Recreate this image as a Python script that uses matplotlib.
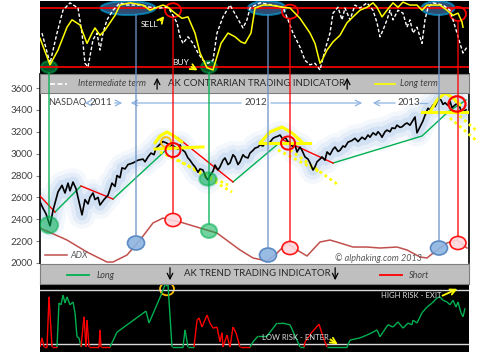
import numpy as np
import matplotlib.pyplot as plt
from matplotlib.patches import Ellipse, ConnectionPatch
from matplotlib.collections import LineCollection

plt.rcParams['font.family'] = ['Lato', 'DejaVu Sans']

# x axis: months since mid Aug 2011
nasdaq_x = [0.0, 0.15, 0.3, 0.5, 0.65, 0.9, 1.1, 1.25, 1.4, 1.5, 1.65, 1.8, 1.9, 2.0, 2.1, 2.25, 2.4, 2.5,
            2.65, 2.75, 2.9, 3.0, 3.2, 3.4, 3.6, 3.75, 3.85, 4.0, 4.1, 4.25, 4.4, 4.65, 4.9, 5.15, 5.25, 5.4,
            5.55, 5.7, 5.8, 6.05, 6.15, 6.35, 6.5, 6.6, 6.75, 6.9, 7.0, 7.15, 7.25, 7.4, 7.5, 7.65, 7.75, 7.9,
            8.0, 8.15, 8.3, 8.4, 8.5, 8.65, 8.75, 8.9, 9.0, 9.15, 9.25, 9.4, 9.5, 9.65, 9.75, 9.9, 10.0, 10.15,
            10.25, 10.4, 10.5, 10.65, 10.75, 10.9, 11.0, 11.15, 11.25, 11.4, 11.5, 11.65, 11.75, 11.9, 12.0,
            12.15, 12.25, 12.4, 12.5, 12.65, 12.75, 12.85, 13.0, 13.1, 13.25, 13.4, 13.5, 13.65, 13.75, 13.85,
            14.0, 14.1, 14.25, 14.35, 14.5, 14.65, 14.75, 14.9, 15.0, 15.15, 15.25, 15.4, 15.6, 15.75, 15.9,
            16.1, 16.25, 16.4, 16.5, 16.65, 16.8, 16.9, 17.0, 17.1, 17.25, 17.35, 17.5, 17.6, 17.75, 17.85,
            18.0, 18.1, 18.25, 18.35, 18.5, 18.6, 18.75, 18.85, 19.0, 19.15, 19.25, 19.4, 19.5, 19.65, 19.75,
            19.85, 19.95, 20.05, 20.15, 20.25, 20.4, 20.5, 20.6, 20.75, 20.9, 21.0, 21.1, 21.2, 21.3]
nasdaq_v = [2560, 2500, 2450, 2340, 2480, 2650, 2710, 2640, 2730, 2660, 2740, 2680, 2600, 2520, 2440, 2580,
            2540, 2600, 2640, 2580, 2600, 2530, 2580, 2620, 2730, 2700, 2800, 2780, 2870, 2860, 2900, 2915,
            2940, 2950, 2925, 2970, 3005, 2990, 3050, 3095, 3110, 3095, 3070, 3080, 3060, 3040, 3080, 3030,
            3015, 2960, 2940, 2900, 2880, 2830, 2860, 2850, 2780, 2760, 2800, 2840, 2895, 2850, 2880, 2940,
            2960, 2900, 2915, 2990, 2970, 2900, 2925, 2990, 2970, 2960, 3005, 3030, 3050, 3060, 3080, 3070,
            3095, 3090, 3105, 3140, 3150, 3160, 3170, 3130, 3150, 3110, 3095, 3060, 3080, 3015, 3060, 3030,
            2970, 2950, 2915, 2850, 2880, 2925, 2950, 2970, 2940, 3015, 2990, 3040, 3060, 3020, 3030, 3070,
            3060, 3105, 3120, 3140, 3110, 3150, 3130, 3170, 3150, 3190, 3170, 3200, 3180, 3150, 3200, 3215,
            3200, 3235, 3230, 3260, 3240, 3245, 3270, 3280, 3260, 3290, 3335, 3190, 3245, 3300, 3350, 3415,
            3400, 3445, 3430, 3470, 3500, 3490, 3450, 3465, 3440, 3480, 3420, 3445, 3465, 3420, 3370, 3390, 3400]

adx_x = [0, 1.35, 2.35, 3.35, 3.65, 4.35, 5.0, 5.65, 6.15, 6.5, 7.0, 8.0, 8.85, 10.0, 10.65, 11.35, 11.85,
         12.35, 12.85, 13.35, 14.0, 14.5, 15.0, 15.65, 16.35, 17.0, 17.85, 18.35, 19.0, 19.35, 19.85, 20.35,
         20.85, 21.35]
adx_v = [2320, 2210, 2100, 2009, 2009, 2073, 2210, 2366, 2411, 2393, 2375, 2320, 2274, 2119, 2046, 2018,
         2091, 2183, 2119, 2064, 2192, 2210, 2183, 2146, 2146, 2137, 2146, 2119, 2055, 2046, 2119, 2183,
         2210, 2137]

long_lines = [([0.75, 2.05], [2466, 2704]), ([3.65, 6.3], [2585, 3033]), ([9.65, 11.9], [2741, 3088]),
              ([14.65, 19.1, 20.4, 21.3], [2914, 3161, 3381, 3490])]
short_lines = [([0, 0.75], [2613, 2466]), ([2.05, 3.65], [2704, 2585]), ([6.9, 9.65], [3143, 2741]),
               ([12.15, 14.65], [3125, 2914])]

# head & neckline patterns
heads = [([5.75, 6.0, 6.35, 6.7, 7.1], [3097, 3161, 3198, 3161, 3106]),
         ([11.0, 11.5, 12.1, 12.6, 13.1], [3097, 3198, 3243, 3189, 3106]),
         ([19.5, 19.85, 20.25, 20.65, 21.0], [3381, 3490, 3554, 3509, 3445])]
necks = [([5.75, 8.15], [3042, 3061]), ([11.0, 13.5], [3097, 3097]), ([19.1, 21.35], [3381, 3381])]
channels = [([6.0, 9.4], [3015, 2713]), ([6.9, 9.6], [2942, 2649]),
            ([11.9, 14.0], [3033, 2832]), ([12.5, 14.85], [3033, 2722]),
            ([20.75, 21.9], [3381, 3198]), ([20.5, 21.9], [3326, 3106])]

# contrarian oscillators (top panel)
long_term_x = [0, 0.5, 0.9, 1.35, 1.6, 2.0, 2.35, 2.6, 2.75, 3.0, 3.25, 3.5, 3.75, 4.0, 4.5, 5.15, 5.5, 5.85,
               6.15, 6.4, 6.75, 7.1, 7.4, 7.75, 8.0, 8.35, 8.65, 9.05, 9.4, 9.75, 10.05, 10.25, 10.55, 10.75,
               11.15, 11.5, 12.15, 12.5, 13.0, 13.5, 13.75, 14.0, 14.1, 14.35, 14.65, 15.0, 15.35, 15.65,
               16.0, 16.35, 16.65, 16.85, 17.1, 17.35, 17.65, 17.9, 18.15, 18.5, 18.85, 19.1, 19.35, 20.0,
               20.35, 20.65, 20.9, 21.1, 21.15]
long_term_v = [49, 13, 33, 64, 74, 67, 42, 56, 63, 53, 60, 70, 80, 94, 97, 94, 87, 91, 94, 91, 83, 76, 78,
               56, 29, 9, 6, 42, 56, 51, 44, 42, 56, 90, 94, 94, 91, 90, 76, 56, 42, 15, 19, 33, 44, 53, 70,
               78, 87, 91, 97, 91, 78, 87, 97, 91, 98, 94, 94, 87, 94, 94, 87, 80, 83, 71, 64]
interm_x = [0.1, 0.5, 0.85, 1.15, 1.5, 1.9, 2.1, 2.25, 2.4, 2.65, 2.85, 3.0, 3.15, 3.35, 3.65, 4.0, 4.35, 5.0,
            5.5, 6.0, 6.35, 6.5, 6.85, 7.0, 7.15, 7.4, 7.65, 7.9, 8.15, 8.4, 8.65, 8.85, 9.15, 9.5, 9.65, 10.0,
            10.15, 10.35, 10.5, 11.0, 11.65, 12.15, 12.4, 12.65, 13.0, 13.25, 13.5, 13.75, 14.0, 14.25, 14.5,
            14.65, 14.9, 15.1, 15.25, 15.5, 15.75, 16.0, 16.35, 16.65, 16.85, 17.0, 17.15, 17.35, 17.5,
            17.65, 17.9, 18.15, 18.35, 18.5, 18.65, 18.85, 19.1, 19.25, 19.4, 19.65, 20.15, 20.5, 20.65,
            20.85, 21.0, 21.15, 21.35]
interm_v = [56, 15, 56, 87, 97, 90, 56, 15, 10, 47, 56, 33, 56, 74, 87, 97, 94, 94, 91, 90, 91, 87, 70, 51,
            42, 51, 42, 29, 19, 15, 19, 56, 78, 94, 87, 70, 63, 74, 90, 97, 94, 91, 74, 56, 37, 19, 13, 15,
            6, 33, 56, 83, 91, 74, 90, 74, 94, 90, 97, 87, 70, 51, 60, 74, 87, 74, 87, 83, 64, 74, 56, 64,
            42, 74, 91, 97, 94, 87, 74, 56, 42, 29, 37]

# trend indicator (bottom panel)
trend_x = [0, 0.1, 0.2, 0.35, 0.45, 0.6, 0.85, 0.95, 1.05, 1.15, 1.25, 1.35, 1.5, 1.65, 1.75, 1.85, 1.95,
           2.05, 2.2, 2.3, 2.35, 2.45, 2.95, 3.0, 3.05, 3.5, 3.85, 5.3, 5.45, 6.1, 6.25, 6.4, 6.6, 7.15, 7.25,
           7.4, 7.7, 7.85, 7.95, 8.1, 8.35, 8.5, 8.65, 8.85, 9.0, 9.1, 9.15, 9.35, 9.5, 9.65, 9.8, 10.0, 10.5,
           10.65, 10.9, 11.35, 11.85, 12.1, 12.5, 12.85, 13.0, 13.2, 13.25, 13.6, 13.95, 14.15, 14.35, 15.35,
           15.5, 16.0, 16.35, 16.65, 16.85, 17.0, 17.15, 17.4, 17.65, 17.9, 18.15, 18.4, 18.6, 18.65, 18.85,
           19.1, 19.35, 19.6, 19.85, 20.0, 20.15, 20.35, 20.5, 20.65, 20.8, 20.9, 21.05, 21.15, 21.25]
trend_v = [0, 16, 0, 0, 88, 0, 0, 77, 74, 91, 77, 88, 74, 79, 60, 18, 16, 0, 53, 0, 47, 0, 0, 30, 0, 0, 26,
           63, 42, 95, 109, 109, 0, 0, 30, 0, 0, 47, 51, 35, 56, 42, 33, 35, 9, 25, 0, 21, 0, 35, 25, 0, 0, 9,
           19, 19, 42, 42, 39, 12, 0, 0, 9, 26, 40, 18, 0, 0, 12, 16, 21, 26, 30, 18, 26, 39, 35, 44, 33, 42,
           39, 47, 42, 60, 70, 77, 86, 88, 82, 79, 74, 82, 70, 79, 60, 53, 68]
trend_switch_x = [0, 0.85, 2.05, 3.5, 7.7, 10.5, 13.2, 14.35]
trend_switch_side = ['short', 'long', 'short', 'long', 'short', 'long', 'short', 'long']

# signals
buy_x = [0.45, 8.45]
buy_main_v = [2347, 2293]
exit_x = [4.8, 11.4, 19.95]
exit_adx_v = [2183, 2073, 2137]
exit_top_x = [4.4, 11.35, 19.9]
exit_top_w = [2.75, 1.9, 1.65]
sell_x = [6.65, 12.5, 20.9]
sell_adx_v = [2393, 2137, 2183]
sell_top_v = [87, 85, 82]

W, H = 480, 356
GREEN, RED, BLUE, YEL, ORANGE = '#00B050', '#FF0000', '#4F81BD', '#FFFF00', '#FFC000'
XMAX = 21.45


def box(x0, y0, x1, y1):
    return [x0 / W, 1 - y1 / H, (x1 - x0) / W, (y1 - y0) / H]


fig = plt.figure(figsize=(4.8, 3.56), dpi=100)

# ---- main chart
ax = fig.add_axes(box(40, 74, 469, 263))
ax.set_xlim(0, XMAX)
ax.set_ylim(2000, 3728)
ax.set_yticks(np.arange(2000, 3601, 200))
ax.set_xticks([])
ax.tick_params(axis='y', labelsize=7, labelcolor='#404040', length=3, color='#808080', pad=2)
for s in ['top', 'bottom']:
    ax.spines[s].set_visible(False)
ax.spines['left'].set_linewidth(1.2)
ax.spines['right'].set_linewidth(1.2)

for lw, a in [(20, 0.09), (14, 0.14), (8, 0.22)]:
    ax.plot(nasdaq_x, nasdaq_v, color='#8DB3E2', lw=lw, alpha=a, solid_joinstyle='round',
            solid_capstyle='round')
ax.plot(nasdaq_x, nasdaq_v, color='black', lw=1.2, zorder=4)
ax.plot(adx_x, adx_v, color='#C0504D', lw=1.1)
for x, v in long_lines:
    ax.plot(x, v, color=GREEN, lw=1, zorder=3)
for x, v in short_lines:
    ax.plot(x, v, color=RED, lw=1, zorder=3)
for x, v in heads:
    ax.plot(x, v, color=YEL, lw=2.2, zorder=5, solid_capstyle='round')
for x, v in necks:
    ax.plot(x, v, color=YEL, lw=2.2, zorder=5)
for x, v in channels:
    ax.plot(x, v, color=YEL, lw=2, ls=(0, (1, 1.2)), zorder=3, clip_on=False)

# year ranges
yr = 3463
arw = dict(arrowstyle='->', color='#8EB4E3', lw=0.9)
ax.text(0.4, yr, 'NASDAQ', fontsize=6.5, color='#404040', va='center')
ax.text(3.05, yr, '2011', fontsize=7, color='#404040', va='center', ha='center')
ax.annotate('', xy=(2.1, yr), xytext=(2.55, yr), arrowprops=arw)
ax.annotate('', xy=(4.25, yr), xytext=(3.6, yr), arrowprops=arw)
ax.annotate('', xy=(4.4, yr), xytext=(10.2, yr), arrowprops=arw)
ax.text(10.8, yr, '2012', fontsize=7, color='#404040', va='center', ha='center')
ax.annotate('', xy=(16.25, yr), xytext=(11.4, yr), arrowprops=arw)
ax.annotate('', xy=(16.5, yr), xytext=(17.9, yr), arrowprops=arw)
ax.text(18.45, yr, '2013', fontsize=7, color='#404040', va='center', ha='center')
ax.plot([19.0, 19.35], [yr, yr], color='#8EB4E3', lw=0.9)

# markers in main chart
ax.add_patch(Ellipse((buy_x[0], buy_main_v[0]), 0.9, 150, fc=GREEN, ec=GREEN, alpha=0.55, lw=1.5, zorder=6))
ax.add_patch(Ellipse((8.4, 2768), 0.85, 120, fc=GREEN, ec=GREEN, alpha=0.55, lw=1.5, zorder=6))
ax.add_patch(Ellipse((buy_x[1], buy_main_v[1]), 0.8, 128, fc=GREEN, ec=GREEN, alpha=0.55, lw=1.5, zorder=6))
for x, v in zip(exit_x, exit_adx_v):
    ax.add_patch(Ellipse((x, v), 0.85, 128, fc='#8DB4E2', ec=BLUE, lw=1.2, alpha=0.9, zorder=6))
for x, v in zip(sell_x, sell_adx_v):
    ax.add_patch(Ellipse((x, v), 0.8, 120, fc='#FFD7DC', ec=RED, lw=1.2, alpha=0.9, zorder=6))
ax.add_patch(Ellipse((6.3, 3106), 0.5, 90, fc='none', ec=ORANGE, lw=1.3, zorder=7))
ax.add_patch(Ellipse((6.65, 3033), 0.75, 128, fc='none', ec=RED, lw=1.4, zorder=7))
ax.add_patch(Ellipse((12.4, 3097), 0.7, 120, fc='none', ec=RED, lw=1.4, zorder=7))
ax.add_patch(Ellipse((20.85, 3454), 0.85, 140, fc='none', ec=RED, lw=1.6, zorder=7))

ax.plot([0.25, 1.35], [2073, 2073], color='#C0504D', lw=1.1)
ax.text(1.5, 2073, 'ADX', fontsize=6.5, style='italic', color='#595959', va='center')
ax.text(14.75, 2046, '© alphaking.com 2013', fontsize=6.5, style='italic', color='#595959', va='center')

# ---- top panel (contrarian)
at = fig.add_axes(box(40, 1, 469, 74))
at.set_facecolor('black')
at.set_xlim(0, XMAX)
at.set_ylim(0.5, 99.5)
at.set_xticks([])
at.set_yticks([])
for s in at.spines.values():
    s.set_visible(False)
at.axhline(90, color=RED, lw=1.2)
at.axhline(10, color=RED, lw=1.2)
at.plot(interm_x, interm_v, color='white', lw=1, ls=(0, (2.5, 1.5)))
at.plot(long_term_x, long_term_v, color=YEL, lw=1.1)
for x in buy_x:
    at.add_patch(Ellipse((x, 10), 0.8, 16, fc=GREEN, ec=GREEN, alpha=0.5, lw=1.5))
for x, w in zip(exit_top_x, exit_top_w):
    at.add_patch(Ellipse((x, 90), w, 19, fc=BLUE, ec='#00B0F0', alpha=0.6, lw=1.5))
for x, v in zip(sell_x, sell_top_v):
    at.add_patch(Ellipse((x, v), 0.8, 19, fc='none', ec=RED, lw=1.3))
at.text(5.5, 68, 'SELL', fontsize=6, color='white', ha='center', va='center')
at.annotate('', xy=(6.3, 82), xytext=(5.95, 70), arrowprops=dict(arrowstyle='->', color=YEL, lw=1.3))
at.text(7.05, 15.5, 'BUY', fontsize=6, color='white', ha='center', va='center')
at.annotate('', xy=(8.0, 3.5), xytext=(7.45, 12), arrowprops=dict(arrowstyle='->', color=YEL, lw=1.3))

# ---- bottom panel (trend)
ab = fig.add_axes(box(40, 284, 469, 352))
ab.set_facecolor('black')
ab.set_xlim(0, XMAX)
ab.set_ylim(-8.8, 110.5)
ab.set_xticks([])
ab.set_yticks([])
for s in ab.spines.values():
    s.set_visible(False)
ab.axhline(100, color='#D9D9D9', lw=1)
ab.axhline(5.3, color='#D9D9D9', lw=1)
segs, cols = [], []
for i in range(len(trend_x) - 1):
    k = np.searchsorted(trend_switch_x, trend_x[i], side='right') - 1
    segs.append([(trend_x[i], trend_v[i]), (trend_x[i + 1], trend_v[i + 1])])
    cols.append(GREEN if trend_switch_side[k] == 'long' else RED)
ab.add_collection(LineCollection(segs, colors=cols, lw=1))
ab.add_patch(Ellipse((6.35, 101.7), 0.7, 22, fc='none', ec=ORANGE, lw=1.3, clip_on=False))
ab.text(18.55, 91, 'HIGH RISK - EXIT', fontsize=5.5, color='#E0E0E0', ha='center', va='center')
ab.annotate('', xy=(21.0, 104), xytext=(20.0, 88), arrowprops=dict(arrowstyle='->', color=YEL, lw=1.3))
ab.text(12.75, 17.5, 'LOW RISK - ENTER', fontsize=5.5, color='#E0E0E0', ha='center', va='center')
ab.annotate('', xy=(15.0, 2), xytext=(14.4, 16), arrowprops=dict(arrowstyle='->', color=YEL, lw=1.3))

# ---- gray title bands
def band(y0, y1):
    b = fig.add_axes(box(40, y0, 469, y1))
    b.set_facecolor('#BFBFBF')
    b.set_xlim(0, 1)
    b.set_ylim(0, 1)
    b.set_xticks([])
    b.set_yticks([])
    for s in b.spines.values():
        s.set_color('#7F7F7F')
    return b

b1 = band(74, 93)
b1.plot([0.023, 0.063], [0.5, 0.5], color='white', lw=1.2, ls=(0, (3, 1.5)))
b1.text(0.089, 0.5, 'Intermediate term', fontsize=6.5, style='italic', color='#404040', va='center')
b1.annotate('', xy=(0.273, 0.95), xytext=(0.273, 0.05),
            arrowprops=dict(arrowstyle='->', color='black', lw=0.9))
b1.text(0.298, 0.5, 'AK CONTRARIAN TRADING INDICATOR', fontsize=6.9, color='#262626', va='center')
b1.annotate('', xy=(0.716, 0.95), xytext=(0.716, 0.05),
            arrowprops=dict(arrowstyle='->', color='black', lw=0.9))
b1.plot([0.781, 0.828], [0.5, 0.5], color=YEL, lw=1.2)
b1.text(0.839, 0.5, 'Long term', fontsize=6.5, style='italic', color='#404040', va='center')

b2 = band(264, 284)
b2.plot([0.063, 0.114], [0.45, 0.45], color=GREEN, lw=1.3)
b2.text(0.133, 0.45, 'Long', fontsize=6.5, style='italic', color='#404040', va='center')
b2.annotate('', xy=(0.303, 0.05), xytext=(0.303, 0.95),
            arrowprops=dict(arrowstyle='->', color='black', lw=0.9))
b2.text(0.336, 0.5, 'AK TREND TRADING INDICATOR', fontsize=6.9, color='#262626', va='center')
b2.annotate('', xy=(0.688, 0.05), xytext=(0.688, 0.95),
            arrowprops=dict(arrowstyle='->', color='black', lw=0.9))
b2.plot([0.793, 0.844], [0.45, 0.45], color=RED, lw=1.3)
b2.text(0.86, 0.45, 'Short', fontsize=6.5, style='italic', color='#404040', va='center')

# ---- signal lines across panels
def link(xa, ya, axa, xb, yb, axb, color):
    fig.add_artist(ConnectionPatch((xa, ya), (xb, yb), 'data', 'data', axesA=axa, axesB=axb,
                                   color=color, lw=1.1, alpha=0.85))

for x, v in zip(buy_x, buy_main_v):
    link(x, 2, at, x, v + 70, ax, GREEN)
for xt, x, v in zip(exit_x, exit_x, exit_adx_v):
    link(xt, 80.5, at, x, v + 64, ax, '#6F94C8')
for x, vt, v in zip(sell_x, sell_top_v, sell_adx_v):
    link(x, vt - 9.5, at, x, v + 60, ax, RED)
link(6.3, 3061, ax, 6.35, 112, ab, ORANGE)

fig.savefig('out.png', dpi=100)
